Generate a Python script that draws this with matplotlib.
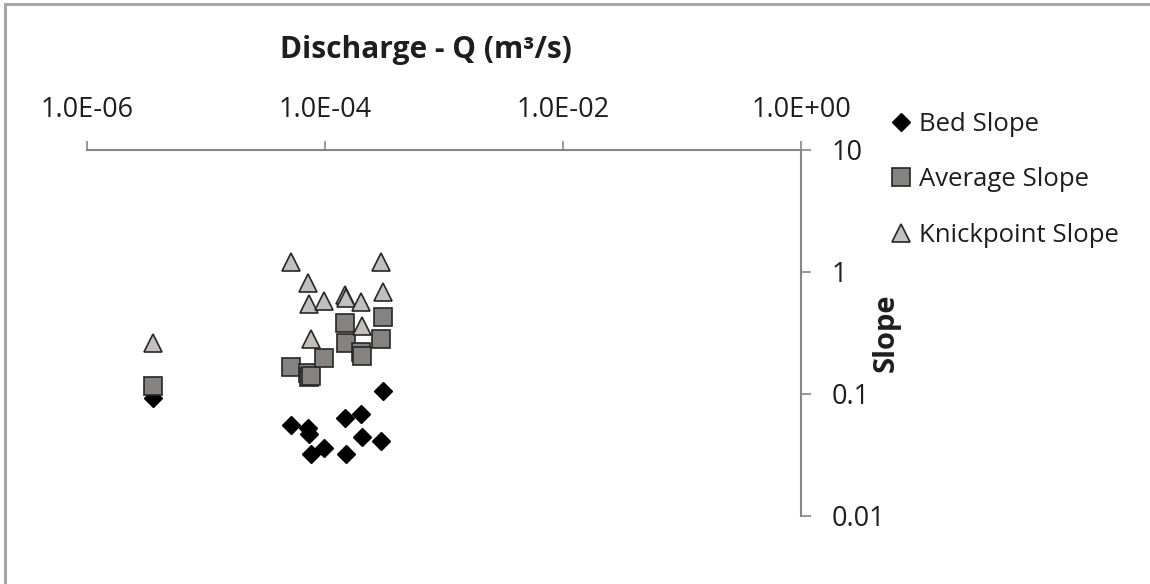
import matplotlib
matplotlib.use("Agg")
import matplotlib.pyplot as plt
from matplotlib.lines import Line2D
import numpy as np

plt.rcParams["font.family"] = ["Open Sans", "DejaVu Sans"]

################################################################################
# Data.                                           #
################################################################################
discharge = [3.6e-6, 5.2e-5, 7.2e-5, 7.4e-5, 7.7e-5, 9.8e-5,
             1.47e-4, 1.5e-4, 2.0e-4, 2.05e-4, 2.96e-4, 3.07e-4]
bed_slope = [0.092, 0.056, 0.053, 0.047, 0.032, 0.036,
             0.064, 0.032, 0.068, 0.044, 0.041, 0.105]
average_slope = [0.117, 0.168, 0.150, 0.137, 0.140, 0.199,
                 0.379, 0.264, 0.219, 0.203, 0.285, 0.425]
knickpoint_slope = [0.264, 1.20, 0.81, 0.55, 0.285, 0.574,
                    0.644, 0.608, 0.564, 0.358, 1.20, 0.69]

x_ticks = [1e-6, 1e-4, 1e-2, 1e0]
x_ticklabels = ["1.0E-06", "1.0E-04", "1.0E-02", "1.0E+00"]
y_ticks = [0.01, 0.1, 1, 10]
y_ticklabels = ["0.01", "0.1", "1", "10"]

axis_grey = "#868686"
text_col = "#1e1e1e"

fig = plt.figure(figsize=(11.5, 5.84), dpi=100)
ax = fig.add_axes([87 / 1150, 1 - 516 / 584, 714 / 1150, 366 / 584])

ax.plot(discharge, bed_slope, "D", ms=9, color="black", mec="black",
        label="Bed Slope", zorder=3)
ax.plot(discharge, average_slope, "s", ms=13, color="#858282", mec="#262626",
        mew=1.2, label="Average Slope", zorder=4)
ax.plot(discharge, knickpoint_slope, "^", ms=13, color="#c2bfbf", mec="#262626",
        mew=1.2, label="Knickpoint Slope", zorder=5)

ax.set_xscale("log")
ax.set_yscale("log")
ax.set_xlim(1e-6, 1)
ax.set_ylim(0.01, 10)

# Axes sit on top and right, like the Excel original.
ax.xaxis.tick_top()
ax.yaxis.tick_right()
ax.set_xticks(x_ticks, x_ticklabels)
ax.set_yticks(y_ticks, y_ticklabels)
ax.minorticks_off()
ax.tick_params(axis="x", direction="out", length=6.5, width=1.2,
               labelsize=19.5, pad=12, labelcolor=text_col, color=axis_grey)
ax.tick_params(axis="y", direction="out", length=7, width=1.2,
               labelsize=19.5, pad=15, labelcolor=text_col, color=axis_grey)
for side in ["bottom", "left"]:
    ax.spines[side].set_visible(False)
for side in ["top", "right"]:
    ax.spines[side].set_color(axis_grey)
    ax.spines[side].set_linewidth(1.5)
ax.patch.set_visible(False)

fig.text(426 / 1150, 1 - 50 / 584, "Discharge - Q (m\u00b3/s)", fontsize=21.5,
         fontweight="bold", ha="center", va="center", color=text_col)
fig.text(886 / 1150, 1 - 333 / 584, "Slope", fontsize=21, fontweight="bold",
         rotation=90, ha="center", va="center", color=text_col)

fig.legend(loc="upper left", bbox_to_anchor=(884 / 1150, 1 - 107 / 584),
           frameon=False, fontsize=18.5, handlelength=0.9, handletextpad=0.25,
           labelspacing=1.18, borderaxespad=0, borderpad=0.2,
           labelcolor=text_col)

# Grey chart-area border (left and top edges only are visible).
fig.add_artist(Line2D([5 / 1150, 5 / 1150], [0, 1 - 4 / 584], color="#a9a6a6",
                      lw=2.2, transform=fig.transFigure))
fig.add_artist(Line2D([5 / 1150, 1], [1 - 4 / 584, 1 - 4 / 584], color="#a9a6a6",
                      lw=2.2, transform=fig.transFigure))

fig.savefig("out.png", dpi=100)
plt.close()
